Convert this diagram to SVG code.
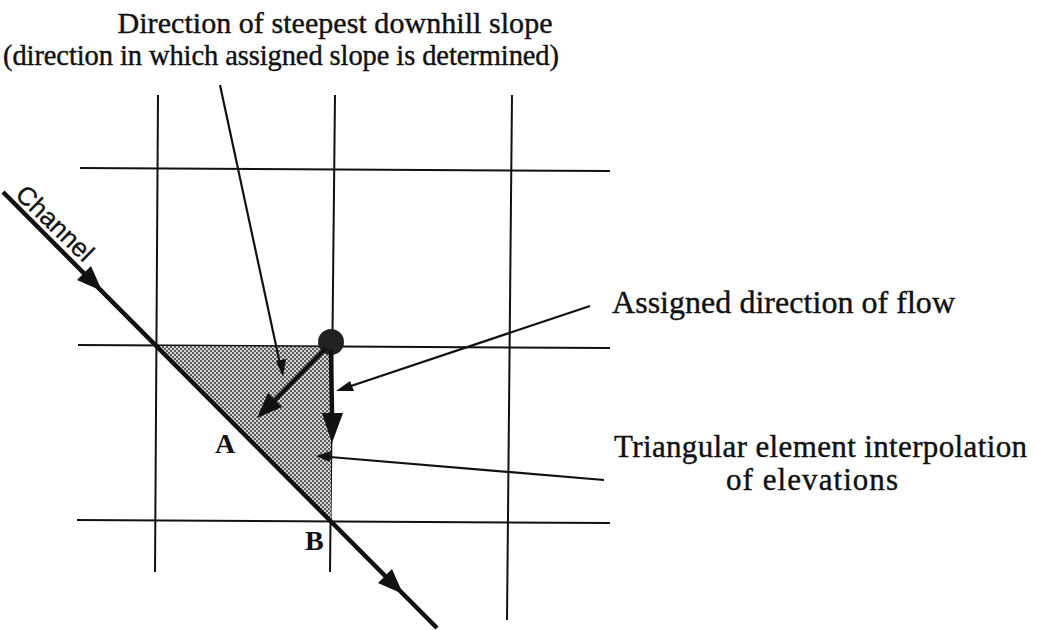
<svg xmlns="http://www.w3.org/2000/svg" width="1039" height="630" viewBox="0 0 1039 630">
<defs>
<style>
.grid{stroke:#111;stroke-width:2;fill:none}
.lead{stroke:#111;stroke-width:2.2;fill:none}
.thick{stroke:#111;stroke-width:4.5;fill:none}
.head{fill:#111;stroke:none}
.t{font-family:"Liberation Serif","Times New Roman",serif;font-size:30px;fill:#111;stroke:#111;stroke-width:0.4}
.lbl{font-family:"Liberation Serif","Times New Roman",serif;font-size:28px;font-weight:bold;fill:#111}
.ch{font-family:"Liberation Sans",Arial,sans-serif;font-size:26px;fill:#111;stroke:#111;stroke-width:0.3}
</style>
<pattern id="dots" width="4" height="4" patternUnits="userSpaceOnUse">
<rect width="4" height="4" fill="#d4d4d4"/>
<circle cx="1" cy="1" r="1" fill="#333"/>
<circle cx="3" cy="3" r="1" fill="#333"/>
</pattern>
</defs>
<rect width="1039" height="630" fill="#fff"/>
<g id="grid">
<line class="grid" x1="158" y1="95" x2="155" y2="572"/>
<line class="grid" x1="335" y1="95" x2="330" y2="572"/>
<line class="grid" x1="512" y1="95" x2="507" y2="620"/>
<line class="grid" x1="80" y1="168" x2="610" y2="171"/>
<line class="grid" x1="78" y1="345" x2="610" y2="348"/>
<line class="grid" x1="77" y1="520" x2="610" y2="523"/>
</g>
<g id="triangle">
<polygon points="156,346 331,347 331,521" fill="url(#dots)"/>
</g>
<g id="channel">
<line class="thick" x1="3" y1="192" x2="437" y2="628" stroke-width="5"/>
<polygon class="head" points="102,291 91,266 77,280"/>
<polygon class="head" points="403,594 392,569 378,583"/>
<text class="ch" transform="translate(14,196) rotate(44)">Channel</text>
</g>
<g id="node-point">
<circle cx="331" cy="342" r="13" fill="#222"/>
</g>
<g id="connectors">
<line class="thick" x1="331" y1="350" x2="332" y2="416"/>
<polygon class="head" points="322,413 343,413 332,443"/>
<line class="thick" x1="326" y1="348" x2="273" y2="402"/>
<polygon class="head" points="257,418 268,393 282,407"/>
<line class="lead" x1="220" y1="85" x2="280" y2="364"/>
<polygon class="head" points="283,377 276,361 286,359"/>
<line class="lead" x1="590" y1="306" x2="348" y2="387"/>
<polygon class="head" points="336,391 350,381 354,391"/>
<line class="lead" x1="604" y1="480" x2="330" y2="457"/>
<polygon class="head" points="316,456 331,451 330,462"/>
</g>
<g id="labels">
<text class="t" x="335" y="33" text-anchor="middle" textLength="435">Direction of steepest downhill slope</text>
<text class="t" x="281" y="65" text-anchor="middle" textLength="556" style="font-size:28.5px">(direction in which assigned slope is determined)</text>
<text class="t" x="612" y="313" textLength="343" style="font-size:32px">Assigned direction of flow</text>
<text class="t" x="614" y="457" textLength="413" style="font-size:31px">Triangular element interpolation</text>
<text class="t" x="812" y="490" text-anchor="middle" textLength="172" style="font-size:31px">of elevations</text>
<text class="lbl" x="215" y="453">A</text>
<text class="lbl" x="305" y="550">B</text>
</g>
</svg>
